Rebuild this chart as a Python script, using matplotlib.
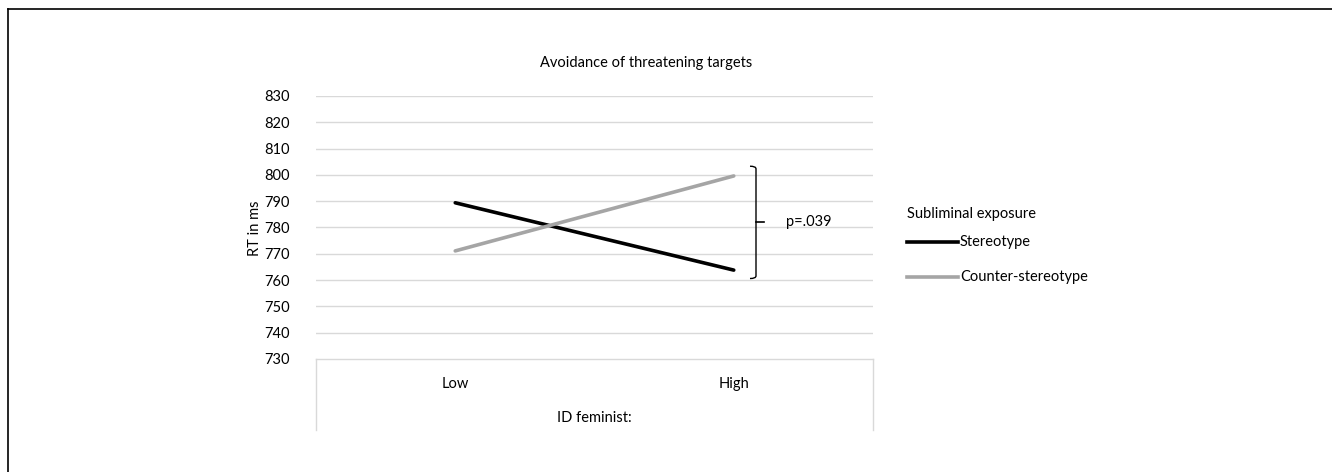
import matplotlib
matplotlib.use("Agg")
import matplotlib.pyplot as plt
from matplotlib.lines import Line2D
from matplotlib.path import Path
from matplotlib.patches import PathPatch

plt.rcParams['font.family'] = ['Lato', 'DejaVu Sans']

# Datos
categorias = ["Low", "High"]
stereotype = [789.4, 763.8]
counter_stereotype = [771.1, 799.6]
yticks = list(range(730, 840, 10))
titulo = "Avoidance of threatening targets"
xlabel = "ID feminist:"
ylabel = "RT in ms"
leyenda_titulo = "Subliminal exposure"
series_nombres = ["Stereotype", "Counter-stereotype"]
p_texto = "p=.039"
llave = [803.3, 760.6]  # extremos de la llave (valores RT)

W, H = 1332, 472
fig = plt.figure(figsize=(W / 100, H / 100), dpi=100)
ax = fig.add_axes([316 / W, 1 - 359 / H, (873 - 316) / W, (359 - 96) / H])

x = [0, 1]
ax.plot(x, stereotype, color="black", lw=2.6, solid_capstyle="round", zorder=3)
ax.plot(x, counter_stereotype, color="#a5a5a5", lw=2.6, solid_capstyle="round", zorder=3)

ax.set_xlim(-0.5, 1.5)
ax.set_ylim(730, 830)
ax.set_yticks(yticks)
ax.set_yticklabels([str(t) for t in yticks], fontsize=10.5)
ax.tick_params(axis="y", length=0, pad=19)
for t in yticks[1:]:
    ax.axhline(t, color="#d9d9d9", lw=1, zorder=1)

for s in ["top", "right", "left"]:
    ax.spines[s].set_visible(False)
ax.spines["bottom"].set_color("#d9d9d9")
ax.spines["bottom"].set_linewidth(1)

# Caja del eje de categorías
ax.set_xticks(x)
ax.set_xticklabels(categorias, fontsize=10.5)
ax.tick_params(axis="x", length=0, pad=13)
for xb in [0, 1]:
    ax.add_line(Line2D([xb, xb], [0, -0.27], transform=ax.transAxes,
                       color="#d9d9d9", lw=1, clip_on=False))
ax.text(0.5, -0.225, xlabel, transform=ax.transAxes, ha="center", va="center", fontsize=10.5)

# Título (centrado sobre gráfico + leyenda)
fig.text(646 / W, 1 - 63 / H, titulo, ha="center", va="center", fontsize=10.5)
fig.text(255 / W, 1 - 228 / H, ylabel, rotation=90, ha="center", va="center", fontsize=10.5)

# Llave con p-valor
trans = ax.get_yaxis_transform()
xl = (756 - 316) / (873 - 316)
dx = 6 / 557
top, bot = llave
mid = (top + bot) / 2
verts = [(xl - dx, top), (xl, top), (xl, top - 1), (xl, bot + 1), (xl, bot), (xl - dx, bot)]
codes = [Path.MOVETO, Path.CURVE3, Path.CURVE3, Path.LINETO, Path.CURVE3, Path.CURVE3]
ax.add_patch(PathPatch(Path(verts, codes), transform=trans, fill=False,
                       edgecolor="black", lw=1, clip_on=False))
ax.add_line(Line2D([xl, xl + 8 / 557], [mid, mid], transform=trans, color="black",
                   lw=1.2, clip_on=False))
ax.text((786 - 316) / 557, mid, p_texto, transform=trans, ha="left", va="center", fontsize=10.5)

# Leyenda
fig.text(907 / W, 1 - 214 / H, leyenda_titulo, ha="left", va="center", fontsize=10.5)
colores = ["black", "#a5a5a5"]
for i, (nombre, c) in enumerate(zip(series_nombres, colores)):
    yy = 1 - (242 + 35 * i) / H
    fig.add_artist(Line2D([907 / W, 958 / W], [yy, yy], color=c, lw=2.6))
    fig.text(960 / W, yy, nombre, ha="left", va="center", fontsize=10.5)

# Borde superior e izquierdo
fig.add_artist(Line2D([8 / W, 8 / W], [0, 1 - 9 / H], color="black", lw=1.2))
fig.add_artist(Line2D([8 / W, 1], [1 - 9 / H, 1 - 9 / H], color="black", lw=1.2))

fig.savefig("out.png", dpi=100)
